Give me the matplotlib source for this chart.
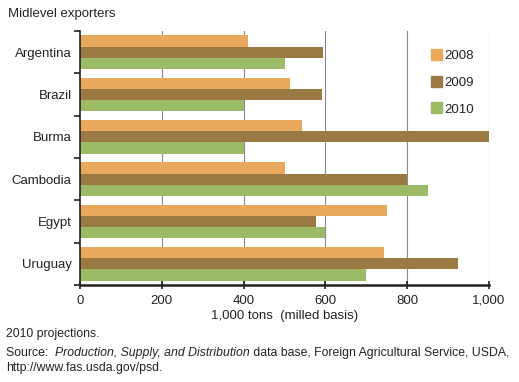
import matplotlib
matplotlib.use("Agg")
import matplotlib.pyplot as plt
import numpy as np
from matplotlib.patches import Patch

countries = ["Argentina", "Brazil", "Burma", "Cambodia", "Egypt", "Uruguay"]
years = ["2008", "2009", "2010"]
v2008 = [410, 513, 543, 500, 750, 743]
v2009 = [594, 592, 1000, 800, 577, 925]
v2010 = [500, 400, 400, 850, 600, 700]
xticks = [0, 200, 400, 600, 800, 1000]
xticklabels = ["0", "200", "400", "600", "800", "1,000"]
colors = ["#E8A95C", "#9A7A42", "#9BBB67"]

plt.rcParams['font.family'] = ['Liberation Sans', 'DejaVu Sans']

fig = plt.figure(figsize=(5.19, 3.82), dpi=100)
ax = fig.add_axes([80/519, 1-285/382, (489-80)/519, (285-31)/382])

n = len(countries)
slot = np.arange(n)
bh = 0.265
for i, vals in enumerate([v2008, v2009, v2010]):
    ax.barh(slot + (i-1)*bh, vals, height=bh, color=colors[i], zorder=2, label=years[i])

ax.set_ylim(n-0.5, -0.5)
ax.set_xlim(0, 1000)
ax.set_yticks(slot)
ax.set_yticklabels(countries, fontsize=9.5, color="#222222")
ax.tick_params(axis='y', length=0, pad=6)
ax.set_yticks(np.arange(n+1)-0.5, minor=True)
ax.tick_params(axis='y', which='minor', length=4, width=1.2, direction='out', color='#222222')
ax.set_xticks(xticks)
ax.set_xticklabels(xticklabels, fontsize=9.5, color="#222222")
ax.tick_params(axis='x', length=6, width=1.2, direction='inout', color='#222222', pad=4)
for x in xticks[1:]:
    ax.axvline(x, color='#8a8a8a', lw=0.8, zorder=1)
for s in ['top', 'right']:
    ax.spines[s].set_visible(False)
ax.spines['left'].set_linewidth(1.2)
ax.spines['bottom'].set_linewidth(1.8)
ax.spines['left'].set_color('#222222')
ax.spines['bottom'].set_color('#222222')
ax.set_xlabel("1,000 tons  (milled basis)", fontsize=9.5, color="#222222", labelpad=2)

handles = [Patch(color=c) for c in colors]
leg = ax.legend(handles, years, loc='upper left', bbox_to_anchor=(0.83, 0.977), frameon=False,
                fontsize=9.5, handlelength=0.8, handleheight=0.9, handletextpad=0.2,
                labelspacing=1.05)
for t in leg.get_texts():
    t.set_color('#222222')

fig.text(8/519, 1-14/382, "Midlevel exporters", fontsize=9.5, va='center', ha='left', color='#222222')
fig.text(6/519, 1-334/382, "2010 projections.", fontsize=8.8, va='center', ha='left', color='#222222')

# Source line with italic part
fig.canvas.draw()
r = fig.canvas.get_renderer()
y_src = 1-353/382
parts = [("Source:  ", 'normal'), ("Production, Supply, and Distribution", 'italic'),
         (" data base, Foreign Agricultural Service, USDA,", 'normal')]
x = 6/519
for txt, st in parts:
    t = fig.text(x, y_src, txt, fontsize=8.8, va='center', ha='left', style=st, color='#222222')
    bb = t.get_window_extent(renderer=r)
    x += bb.width / fig.bbox.width
fig.text(6/519, 1-368/382, "http://www.fas.usda.gov/psd.", fontsize=8.8, va='center', ha='left', color='#222222')

fig.savefig("out.png", dpi=100)
